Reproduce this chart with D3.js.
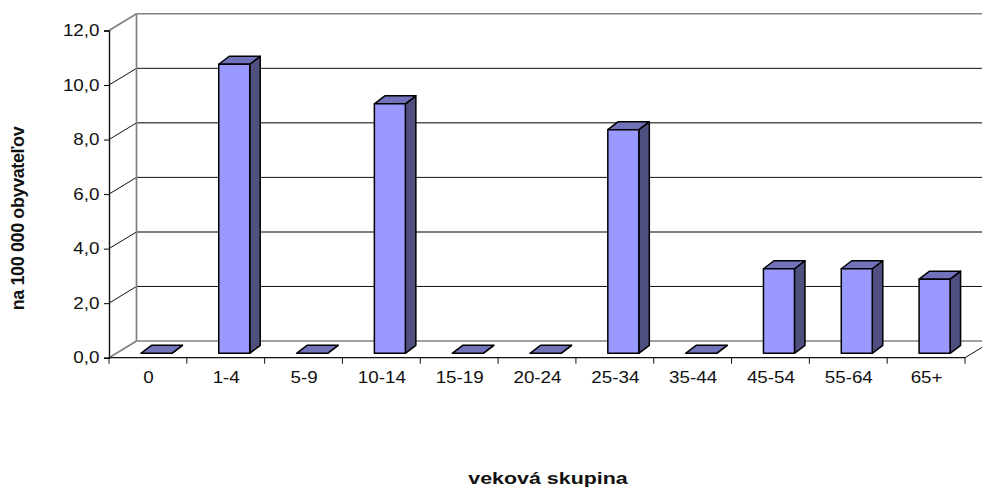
<!DOCTYPE html>
<html><head><meta charset="utf-8">
<style>html,body{margin:0;padding:0;background:#fff;overflow:hidden}svg{display:block}text{font-family:"Liberation Sans",Arial,sans-serif;fill:#111}</style>
<script src="https://cdnjs.cloudflare.com/ajax/libs/d3/7.8.5/d3.min.js"></script>
</head><body><svg id="c" width="982" height="488"></svg>
<script>
const categories=["0","1-4","5-9","10-14","15-19","20-24","25-34","35-44","45-54","55-64","65+"];
const values=[0,10.6,0,9.15,0,0,8.2,0,3.1,3.1,2.72];
const yTicks=[0,2,4,6,8,10,12];
const yTitle="na 100 000 obyvateľov";
const xTitle="veková skupina";

const svg=d3.select("#c");
const fmt=d=>d.toFixed(1).replace(".",",");
const x=d3.scaleBand().domain(categories).range([109,965]);
const y=d3.scaleLinear().domain([0,12]).range([357.7,30.5]);
const depth={dx:27.5,dy:-16.7};
const barW=31, barD={dx:10.5,dy:-8}, barOff={dx:8.5,dy:-4.4};
const gridCol="#111", wallCol="#808080";
const line=(a,b,c,d,col,w)=>svg.append("line").attr("x1",a).attr("y1",b).attr("x2",c).attr("y2",d).attr("stroke",col).attr("stroke-width",w);

// back wall gridlines and left wall
yTicks.forEach(t=>{
  const yy=y(t), edge=t===0||t===12, grey=t===4||t===8;
  line(109,yy,109+depth.dx,yy+depth.dy,edge?wallCol:gridCol,edge?1.6:1);
  line(109+depth.dx,yy+depth.dy,982,yy+depth.dy,edge?wallCol:(grey?"#555":gridCol),edge||grey?1.5:1);
});
line(109+depth.dx,y(0)+depth.dy,109+depth.dx,y(12)+depth.dy,wallCol,1.7);
// floor right edge
line(965,y(0),982,y(0)+depth.dy*17/27.5,gridCol,1);

// y axis
const yAxis=d3.axisLeft(y).tickValues(yTicks).tickFormat(fmt).tickSize(5).tickPadding(4);
const gy=svg.append("g").attr("transform","translate(109,0)").call(yAxis);
gy.select(".domain").attr("stroke","#111").attr("stroke-width",1.4);
gy.selectAll("text").style("font-size","16.5px").attr("fill","#111").attr("x",0).attr("transform","translate(-9.5,0) scale(1.14,1)");

// x axis
const gx=svg.append("g").attr("transform",`translate(0,${y(0)})`);
gx.append("line").attr("x1",x.range()[0]).attr("x2",x.range()[1]).attr("stroke","#111").attr("stroke-width",1.2);
const edges=categories.map(c=>x(c)).concat([x.range()[1]]);
gx.selectAll("line.t").data(edges).join("line").attr("class","t").attr("x1",d=>d).attr("x2",d=>d).attr("y1",0).attr("y2",6).attr("stroke","#111").attr("stroke-width",1);
gx.selectAll("text").data(categories).join("text").attr("transform",d=>`translate(${x(d)+x.bandwidth()/2+0.5},25.5) scale(1.14,1)`).attr("text-anchor","middle").style("font-size","16.5px").text(d=>d);

// bars
const bars=svg.selectAll("g.bar").data(categories.map((c,i)=>({c,v:values[i]}))).join("g").attr("class","bar");
const pts=a=>a.map(p=>p.join(",")).join(" ");
const base=y(0)+barOff.dy;
const scale=v=>base-(y(0)-y(v));
const left=d=>x(d.c)+x.bandwidth()/2-barW/2+barOff.dx;
bars.append("polygon").attr("points",d=>{const l=left(d),t=scale(d.v);return pts([[l+barW,t],[l+barW+barD.dx,t+barD.dy],[l+barW+barD.dx,base+barD.dy],[l+barW,base]]);}).attr("fill","#4f4f80");
bars.append("polygon").attr("points",d=>{const l=left(d),t=scale(d.v);return pts([[l,t],[l+barD.dx,t+barD.dy],[l+barW+barD.dx,t+barD.dy],[l+barW,t]]);}).attr("fill","#7272bb");
bars.append("rect").attr("x",left).attr("y",d=>scale(d.v)).attr("width",barW).attr("height",d=>base-scale(d.v)).attr("fill","#9999ff");
bars.selectAll("polygon,rect").attr("stroke","#000").attr("stroke-width",1.5).attr("stroke-linejoin","round");

// titles
svg.append("text").attr("transform","translate(24,218.5) rotate(-90)").attr("text-anchor","middle").style("font-size","18px").style("font-weight","bold").style("letter-spacing","-0.4px").text(yTitle);
svg.append("text").attr("transform","translate(548,484) scale(1.26,1)").attr("text-anchor","middle").style("font-size","17px").style("font-weight","bold").text(xTitle);
</script></body></html>
